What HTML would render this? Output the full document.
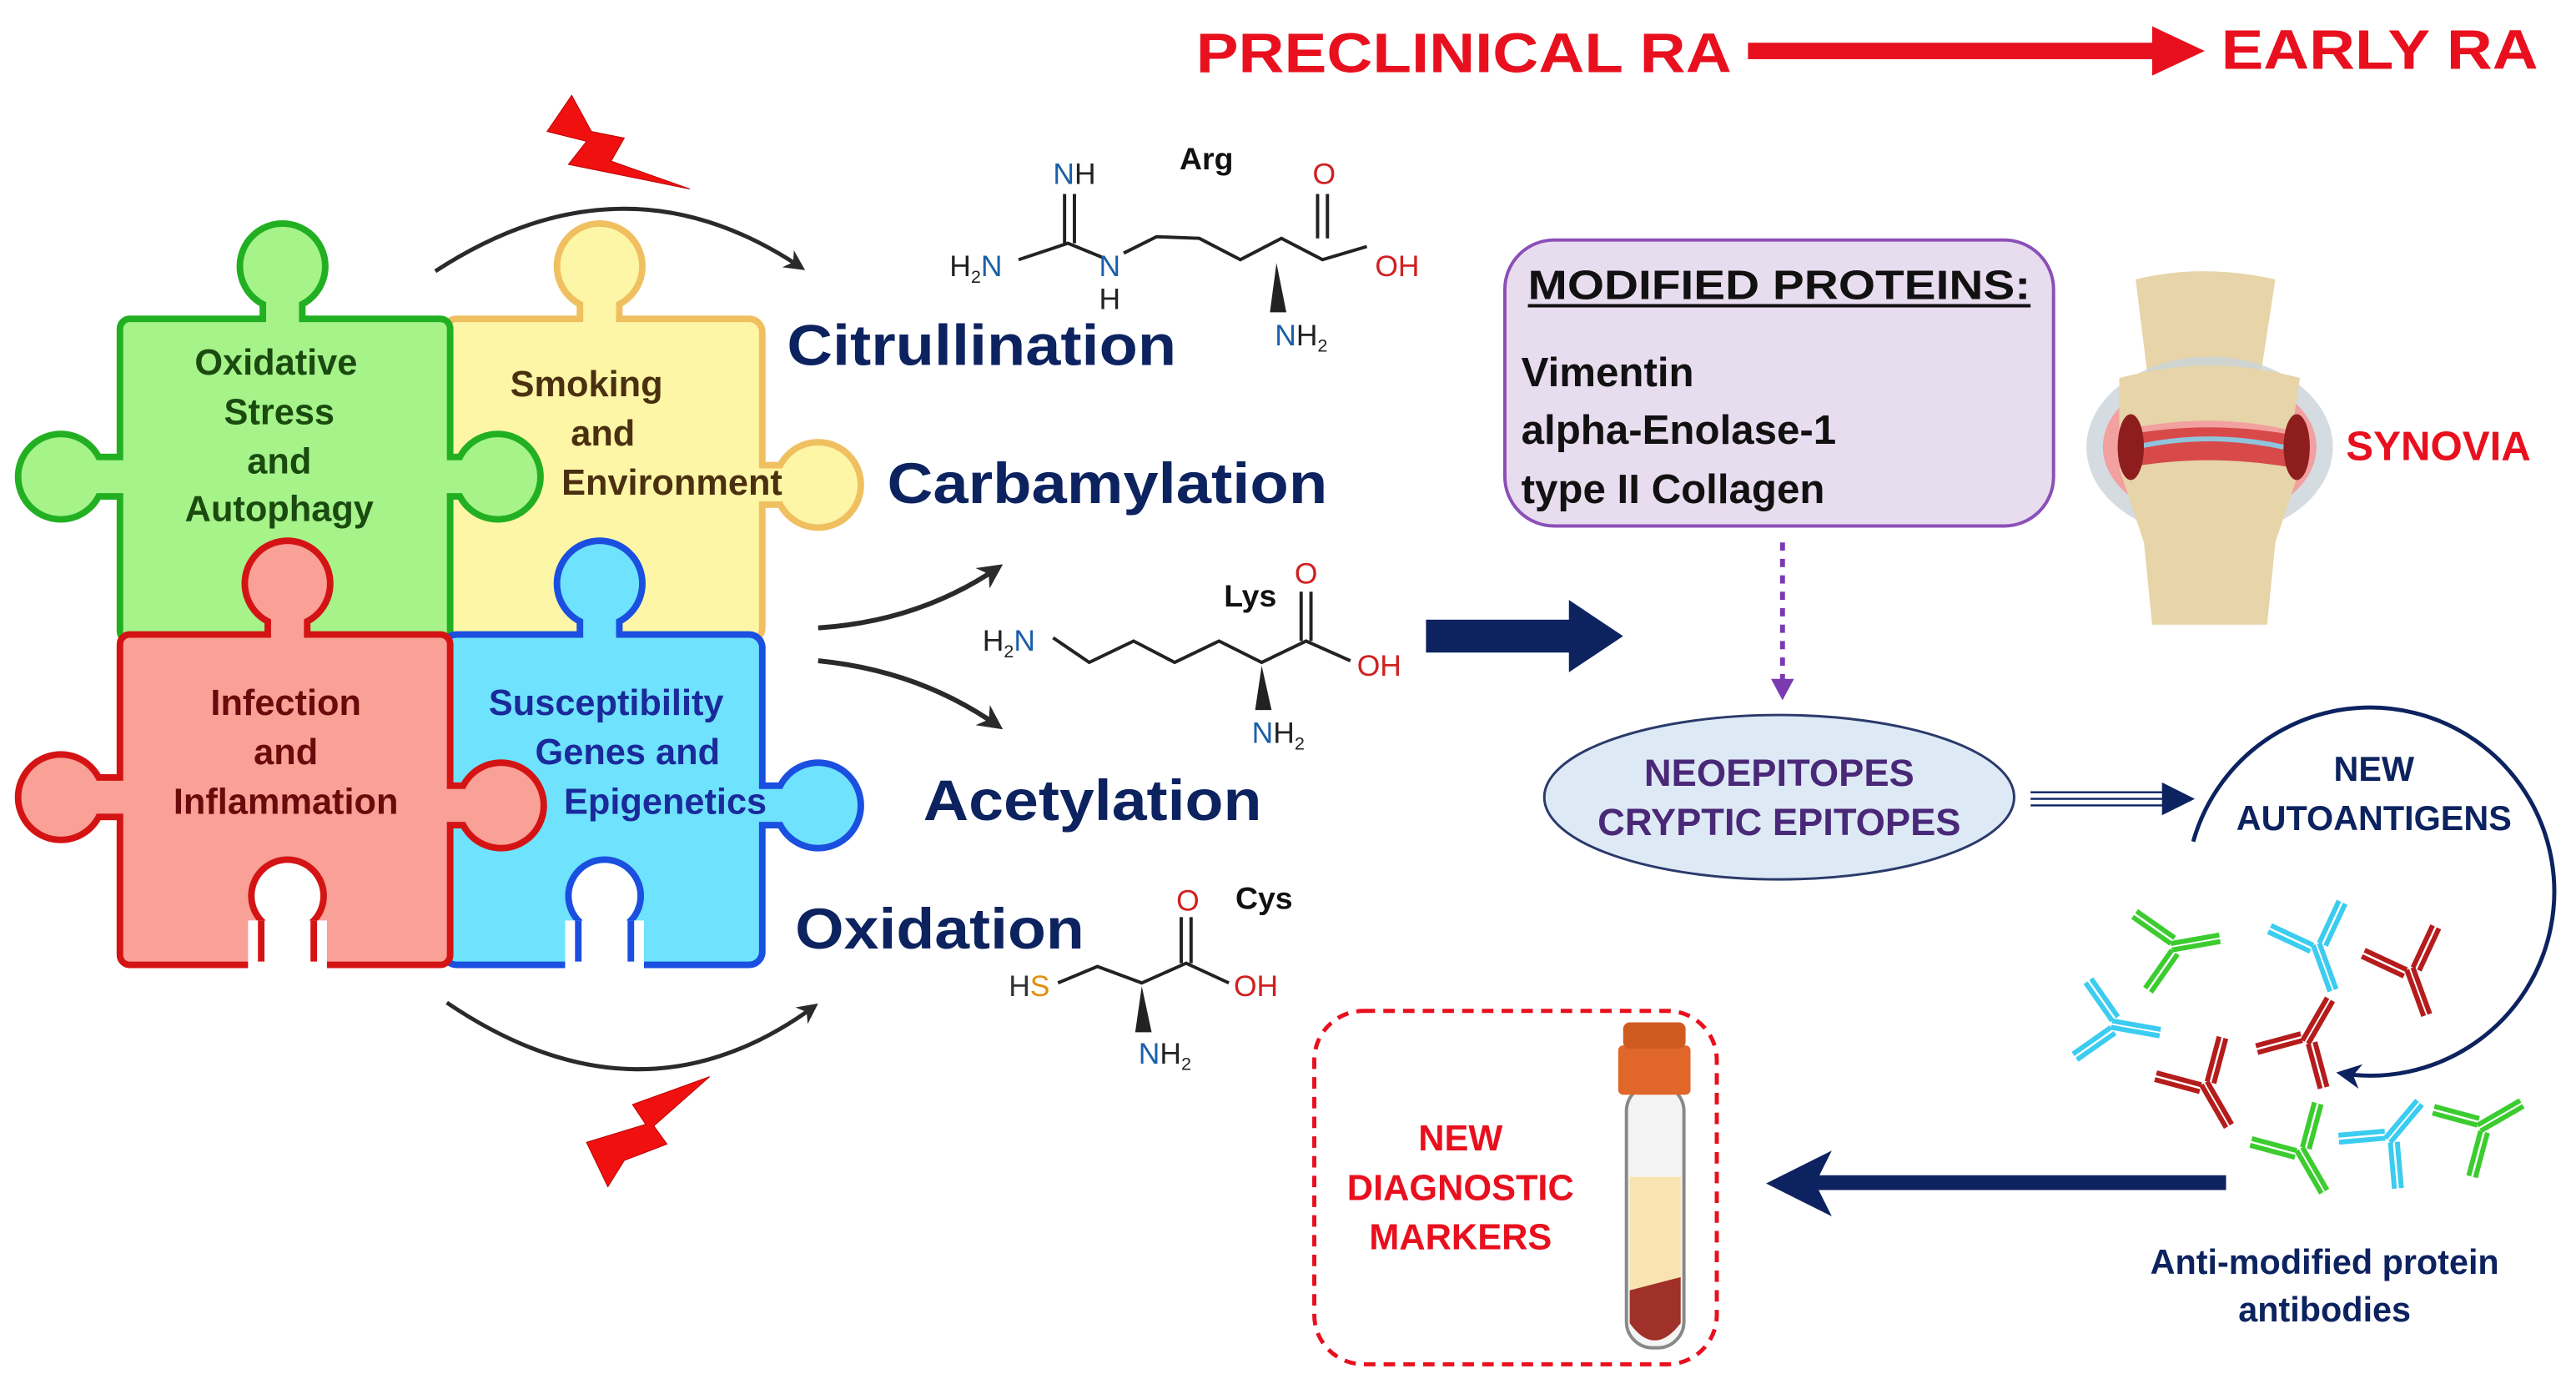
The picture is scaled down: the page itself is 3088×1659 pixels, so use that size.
<!DOCTYPE html>
<html><head><meta charset="utf-8"><style>
html,body{margin:0;padding:0;background:#fff;}
svg{display:block;}
text{font-family:"Liberation Sans",Arial,sans-serif;font-weight:bold;}
</style></head><body>
<svg width="3088" height="1659" viewBox="0 0 1568 842" preserveAspectRatio="none" xmlns="http://www.w3.org/2000/svg">
<defs>
<marker id="ah" viewBox="0 0 10 10" refX="8" refY="5" markerWidth="5" markerHeight="5" orient="auto"><path d="M0,0 L10,5 L0,10 L3,5 z" fill="#2a2a2a"/></marker>
<marker id="ahn" viewBox="0 0 10 10" refX="8" refY="5" markerWidth="6" markerHeight="6" orient="auto"><path d="M0,0 L10,5 L0,10 L3,5 z" fill="#0d2360"/></marker>
<g id="ab"><path d="M0,0 L0,30 M4,0 L4,30 M0,0 L-20,-20 M-3,3 L-23,-17 M4,0 L24,-20 M7,3 L27,-17" stroke-width="3" fill="none"/></g>
</defs>

<!-- Title -->
<text x="728" y="44" font-size="34" fill="#e8101e" textLength="326" lengthAdjust="spacingAndGlyphs">PRECLINICAL RA</text>
<rect x="1064" y="26" width="250" height="10" fill="#e8101e"/>
<path d="M1310,16 L1342,31 L1310,46 z" fill="#e8101e"/>
<text x="1352" y="42" font-size="34" fill="#e8101e" textLength="193" lengthAdjust="spacingAndGlyphs">EARLY RA</text>

<!-- lightning -->
<path d="M348,58 L333,80 L357,86 L346,100 L420,115 L372,98 L380,84 L360,80 z" fill="#f01010" stroke="#b00" stroke-width="0.5"/>
<path d="M432,655 L385,672 L393,684 L357,695 L370,722 L380,706 L406,696 L398,685 z" fill="#f01010" stroke="#b00" stroke-width="0.5"/>

<!-- curved arrows -->
<path d="M265,165 Q380,90 488,163" stroke="#2a2a2a" stroke-width="2.5" fill="none" marker-end="url(#ah)"/>
<path d="M272,610 Q390,690 496,612" stroke="#2a2a2a" stroke-width="2.5" fill="none" marker-end="url(#ah)"/>
<path d="M498,382 Q560,378 608,345" stroke="#2a2a2a" stroke-width="3" fill="none" marker-end="url(#ah)"/>
<path d="M498,402 Q560,408 608,442" stroke="#2a2a2a" stroke-width="3" fill="none" marker-end="url(#ah)"/>

<!-- Puzzle: yellow -->
<g>
<g stroke="#f0c060" stroke-width="8" fill="#f0c060">
<rect x="272" y="196" width="190" height="192" rx="6"/><circle cx="365" cy="162" r="24"/><rect x="355" y="170" width="20" height="30"/>
<circle cx="498" cy="295" r="24"/><rect x="455" y="285" width="30" height="20"/></g>
<g fill="#fdf6a6"><rect x="272" y="196" width="190" height="192" rx="6"/><circle cx="365" cy="162" r="24"/><rect x="355" y="170" width="20" height="30"/>
<circle cx="498" cy="295" r="24"/><rect x="455" y="285" width="30" height="20"/></g>
</g>
<!-- green -->
<g>
<g stroke="#22b022" stroke-width="8" fill="#22b022">
<rect x="75" y="196" width="197" height="192" rx="4"/><circle cx="172" cy="162" r="24"/><rect x="162" y="170" width="20" height="30"/>
<circle cx="37" cy="290" r="24"/><rect x="50" y="280" width="30" height="20"/>
<circle cx="303" cy="290" r="24"/><rect x="265" y="280" width="30" height="20"/></g>
<g fill="#a6f38a"><rect x="75" y="196" width="197" height="192" rx="4"/><circle cx="172" cy="162" r="24"/><rect x="162" y="170" width="20" height="30"/>
<circle cx="37" cy="290" r="24"/><rect x="50" y="280" width="30" height="20"/>
<circle cx="303" cy="290" r="24"/><rect x="265" y="280" width="30" height="20"/></g>
</g>
<!-- blue -->
<g>
<g stroke="#1a4fe0" stroke-width="8" fill="#1a4fe0">
<rect x="272" y="388" width="190" height="197" rx="6"/><circle cx="365" cy="355" r="24"/><rect x="355" y="362" width="20" height="30"/>
<circle cx="498" cy="490" r="24"/><rect x="455" y="480" width="30" height="20"/></g>
<g fill="#6fe2fd"><rect x="272" y="388" width="190" height="197" rx="6"/><circle cx="365" cy="355" r="24"/><rect x="355" y="362" width="20" height="30"/>
<circle cx="498" cy="490" r="24"/><rect x="455" y="480" width="30" height="20"/></g>
<circle cx="368" cy="545" r="22" fill="#fff" stroke="#1a4fe0" stroke-width="4"/>
<rect x="344" y="560" width="48" height="30" fill="#fff"/>
<path d="M352,560 L352,585 M384,560 L384,585" stroke="#1a4fe0" stroke-width="4"/>
</g>
<!-- red -->
<g>
<g stroke="#d41414" stroke-width="8" fill="#d41414">
<rect x="75" y="388" width="197" height="197" rx="4"/><circle cx="175" cy="355" r="24"/><rect x="165" y="362" width="20" height="30"/>
<circle cx="37" cy="485" r="24"/><rect x="50" y="475" width="30" height="20"/>
<circle cx="305" cy="490" r="24"/><rect x="265" y="480" width="30" height="20"/></g>
<g fill="#f9a097"><rect x="75" y="388" width="197" height="197" rx="4"/><circle cx="175" cy="355" r="24"/><rect x="165" y="362" width="20" height="30"/>
<circle cx="37" cy="485" r="24"/><rect x="50" y="475" width="30" height="20"/>
<circle cx="305" cy="490" r="24"/><rect x="265" y="480" width="30" height="20"/></g>
<circle cx="175" cy="545" r="22" fill="#fff" stroke="#d41414" stroke-width="4"/>
<rect x="151" y="560" width="48" height="30" fill="#fff"/>
<path d="M159,560 L159,585 M191,560 L191,585" stroke="#d41414" stroke-width="4"/>
</g>

<!-- puzzle text -->
<g font-size="22" text-anchor="middle">
<text x="168" y="228" fill="#1a4a10">Oxidative</text>
<text x="170" y="258" fill="#1a4a10">Stress</text>
<text x="170" y="288" fill="#1a4a10">and</text>
<text x="170" y="317" fill="#1a4a10">Autophagy</text>
<text x="357" y="241" fill="#4a3010">Smoking</text>
<text x="367" y="271" fill="#4a3010">and</text>
<text x="409" y="301" fill="#4a3010">Environment</text>
<text x="174" y="435" fill="#6a0a0a">Infection</text>
<text x="174" y="465" fill="#6a0a0a">and</text>
<text x="174" y="495" fill="#6a0a0a">Inflammation</text>
<text x="369" y="435" fill="#1a2a9a">Susceptibility</text>
<text x="382" y="465" fill="#1a2a9a">Genes and</text>
<text x="405" y="495" fill="#1a2a9a">Epigenetics</text>
</g>

<!-- PTM labels -->
<g font-size="35" fill="#0d2360">
<text x="479" y="222" textLength="237" lengthAdjust="spacingAndGlyphs">Citrullination</text>
<text x="540" y="306" textLength="268" lengthAdjust="spacingAndGlyphs">Carbamylation</text>
<text x="562" y="499" textLength="206" lengthAdjust="spacingAndGlyphs">Acetylation</text>
<text x="484" y="577" textLength="176" lengthAdjust="spacingAndGlyphs">Oxidation</text>
</g>

<!-- Arg -->
<g stroke="#222" stroke-width="2" fill="none">
<path d="M620,158 L650,148 L672,157 M684,154 L704,144 L730,145 L755,158 L780,145 L805,158 L832,150"/>
<path d="M648,148 L648,118 M654,148 L654,118"/>
<path d="M802,145 L802,118 M808,145 L808,118"/>
</g>
<path d="M777,160 L773,190 L783,190 z" fill="#222"/>
<g font-size="18">
<text x="641" y="112" fill="#1a5fa8" style="font-weight:normal">N<tspan fill="#222">H</tspan></text>
<text x="718" y="103" fill="#111" font-size="19">Arg</text>
<text x="799" y="112" fill="#d02020" style="font-weight:normal">O</text>
<text x="578" y="168" fill="#222" style="font-weight:normal">H<tspan font-size="11" dy="4">2</tspan><tspan fill="#1a5fa8" dy="-4">N</tspan></text>
<text x="669" y="168" fill="#1a5fa8" style="font-weight:normal">N</text>
<text x="669" y="188" fill="#222" style="font-weight:normal">H</text>
<text x="837" y="168" fill="#d02020" style="font-weight:normal">OH</text>
<text x="776" y="210" fill="#1a5fa8" style="font-weight:normal">N<tspan fill="#222">H</tspan><tspan fill="#222" font-size="11" dy="4">2</tspan></text>
</g>

<!-- Lys -->
<g stroke="#222" stroke-width="2" fill="none">
<path d="M641,388 L663,403 L690,390 L715,403 L742,390 L768,403 L795,390 L822,402"/>
<path d="M792,390 L792,360 M798,390 L798,360"/>
</g>
<path d="M768,405 L764,432 L774,432 z" fill="#222"/>
<g font-size="18">
<text x="745" y="369" fill="#111" font-size="19">Lys</text>
<text x="788" y="355" fill="#d02020" style="font-weight:normal">O</text>
<text x="598" y="396" fill="#222" style="font-weight:normal">H<tspan font-size="11" dy="4">2</tspan><tspan fill="#1a5fa8" dy="-4">N</tspan></text>
<text x="826" y="411" fill="#d02020" style="font-weight:normal">OH</text>
<text x="762" y="452" fill="#1a5fa8" style="font-weight:normal">N<tspan fill="#222">H</tspan><tspan fill="#222" font-size="11" dy="4">2</tspan></text>
</g>

<!-- Cys -->
<g stroke="#222" stroke-width="2" fill="none">
<path d="M644,598 L668,588 L695,598 L722,586 L748,598"/>
<path d="M719,586 L719,558 M725,586 L725,558"/>
</g>
<path d="M695,600 L691,628 L701,628 z" fill="#222"/>
<g font-size="18">
<text x="752" y="553" fill="#111" font-size="19">Cys</text>
<text x="716" y="554" fill="#d02020" style="font-weight:normal">O</text>
<text x="614" y="606" fill="#333" style="font-weight:normal">H<tspan fill="#e09010">S</tspan></text>
<text x="751" y="606" fill="#d02020" style="font-weight:normal">OH</text>
<text x="693" y="647" fill="#1a5fa8" style="font-weight:normal">N<tspan fill="#222">H</tspan><tspan fill="#222" font-size="11" dy="4">2</tspan></text>
</g>

<!-- big navy arrow -->
<rect x="868" y="377" width="90" height="20" fill="#0d2360"/>
<path d="M955,365 L988,387 L955,409 z" fill="#0d2360"/>

<!-- modified proteins box -->
<rect x="916" y="146" width="334" height="174" rx="30" fill="#e8dcef" stroke="#8b4fb8" stroke-width="2"/>
<text x="930" y="182" font-size="25" fill="#111" textLength="306" lengthAdjust="spacingAndGlyphs">MODIFIED PROTEINS:</text>
<line x1="930" y1="186" x2="1236" y2="186" stroke="#111" stroke-width="2"/>
<g font-size="25" fill="#111">
<text x="926" y="235">Vimentin</text>
<text x="926" y="270">alpha-Enolase-1</text>
<text x="926" y="306">type II Collagen</text>
</g>
<line x1="1085" y1="330" x2="1085" y2="415" stroke="#7a3ab0" stroke-width="3" stroke-dasharray="5,5"/>
<path d="M1078,413 L1092,413 L1085,426 z" fill="#7a3ab0"/>

<!-- ellipse -->
<ellipse cx="1083" cy="485" rx="143" ry="50" fill="#dde9f5" stroke="#2a3a6b" stroke-width="1.5"/>
<g font-size="23" fill="#4a2878" text-anchor="middle">
<text x="1083" y="478">NEOEPITOPES</text>
<text x="1083" y="508">CRYPTIC EPITOPES</text>
</g>
<path d="M1236,482 L1318,482 M1236,486 L1318,486 M1236,490 L1318,490" stroke="#0d2360" stroke-width="1.2"/>
<path d="M1316,476 L1336,486 L1316,496 z" fill="#0d2360"/>

<!-- circle arc -->
<path d="M1335,512 A112,112 0 1 1 1425,653" stroke="#0d2360" stroke-width="2.5" fill="none" marker-end="url(#ahn)"/>
<g font-size="21" fill="#0d2360" text-anchor="middle">
<text x="1445" y="475">NEW</text>
<text x="1445" y="505">AUTOANTIGENS</text>
</g>

<!-- knee -->
<g>
<path d="M1300,170 Q1340,160 1385,170 L1375,235 Q1395,245 1395,265 L1290,265 Q1290,245 1308,235 z" fill="#e7d4a8"/>
<ellipse cx="1345" cy="272" rx="75" ry="55" fill="#c9d3da" opacity="0.8"/>
<ellipse cx="1345" cy="272" rx="65" ry="45" fill="#f2a0a0"/>
<path d="M1290,230 Q1345,215 1400,230 L1395,262 Q1345,250 1290,262 z" fill="#e7d4a8"/>
<path d="M1290,285 Q1345,275 1400,285 L1385,330 L1380,380 L1310,380 L1305,330 z" fill="#e7d4a8"/>
<path d="M1292,265 Q1345,255 1398,265 L1398,285 Q1345,275 1292,285 z" fill="#d84a4a"/>
<path d="M1300,272 Q1345,262 1390,272" stroke="#8fc4dc" stroke-width="3" fill="none"/>
<ellipse cx="1297" cy="272" rx="8" ry="20" fill="#8e1e1e"/>
<ellipse cx="1398" cy="272" rx="8" ry="20" fill="#8e1e1e"/>
</g>
<text x="1428" y="280" font-size="25" fill="#e8101e">SYNOVIA</text>

<!-- antibodies -->
<g stroke="#3ccc30"><use href="#ab" transform="translate(1322,578) rotate(-100)"/><use href="#ab" transform="translate(1398,700) rotate(-30)"/><use href="#ab" transform="translate(1510,688) rotate(-120)"/></g>
<g stroke="#3cccf0"><use href="#ab" transform="translate(1408,575) rotate(-20)"/><use href="#ab" transform="translate(1285,625) rotate(-80)"/><use href="#ab" transform="translate(1455,695) rotate(-140)"/></g>
<g stroke="#b51c1c"><use href="#ab" transform="translate(1465,590) rotate(-20)"/><use href="#ab" transform="translate(1340,660) rotate(-30)"/><use href="#ab" transform="translate(1405,635) rotate(-150)"/></g>

<!-- left arrow -->
<rect x="1105" y="715" width="250" height="9" fill="#0d2360"/>
<path d="M1075,720 L1115,700 L1105,720 L1115,740 z" fill="#0d2360"/>

<text x="1415" y="775" font-size="21" fill="#0d2360" text-anchor="middle">Anti-modified protein</text>
<text x="1415" y="804" font-size="21" fill="#0d2360" text-anchor="middle">antibodies</text>

<!-- diagnostic box -->
<rect x="800" y="615" width="245" height="215" rx="30" fill="none" stroke="#e8101e" stroke-width="2.5" stroke-dasharray="7,5"/>
<g font-size="22" fill="#e8101e" text-anchor="middle">
<text x="889" y="700">NEW</text>
<text x="889" y="730">DIAGNOSTIC</text>
<text x="889" y="760">MARKERS</text>
</g>
<!-- tube -->
<rect x="990" y="660" width="35" height="160" rx="16" fill="#f4f4f4" stroke="#888" stroke-width="2"/>
<path d="M992,716 L1023,716 L1023,804 Q1007,826 992,804 z" fill="#f9e3b0"/>
<path d="M992,785 L1023,777 L1023,805 Q1007,826 992,805 z" fill="#a0302a"/>
<rect x="985" y="636" width="44" height="30" rx="3" fill="#e0662a"/>
<rect x="988" y="622" width="38" height="16" rx="4" fill="#d05a20"/>
</svg>
</body></html>
